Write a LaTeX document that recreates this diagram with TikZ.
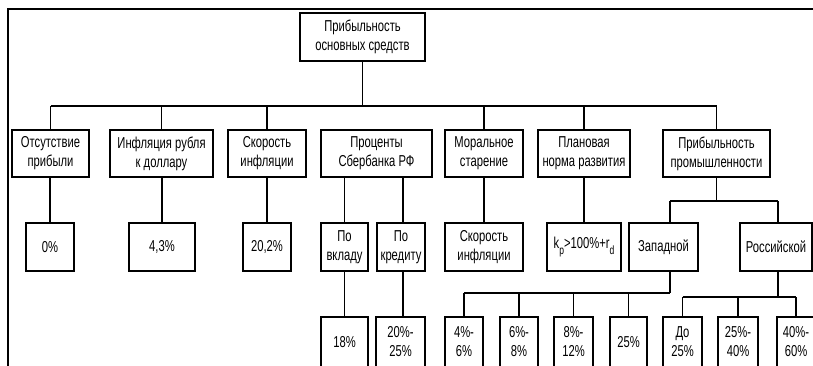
\documentclass[tikz,border=0pt]{standalone}
\usepackage{fontspec}
\setmainfont{Liberation Sans}[FakeStretch=0.71]
\begin{document}
\begin{tikzpicture}[x=1pt,y=-1pt,
  every node/.style={font=\fontsize{15.8}{19}\selectfont},
  box/.style={draw,line width=1.7pt,inner sep=0pt,align=center,minimum height=48pt},
  link/.style={line width=1.7pt},
  bus/.style={line width=2.5pt}]
\useasboundingbox (0,0) rectangle (813,365);
\clip (0,0) rectangle (813,365);

% outer frame (only its top and left sides fall inside the sheet)
\draw[line width=2pt] (8,400) -- (8,9) -- (830,9);

% root
\node[box,minimum width=125pt] (root) at (362.5,37) {Прибыльность\\основных средств};

% first level
\node[box,minimum width=77pt,minimum height=47pt]  (a1) at (50.5,153.5) {Отсутствие\\прибыли};
\node[box,minimum width=103pt,minimum height=47pt] (a2) at (161.5,153.5) {Инфляция рубля\\к доллару};
\node[box,minimum width=78pt,minimum height=47pt]  (a3) at (267,153.5) {Скорость\\инфляции};
\node[box,minimum width=111pt,minimum height=47pt] (a4) at (376.5,153.5) {Проценты\\Сбербанка РФ};
\node[box,minimum width=78pt,minimum height=47pt]  (a5) at (484,153.5) {Моральное\\старение};
\node[box,minimum width=92pt,minimum height=47pt]  (a6) at (584,153.5) {Плановая\\норма развития};
\node[box,minimum width=107pt,minimum height=47pt] (a7) at (716.5,153.5) {Прибыльность\\промышленности};

% second level
\node[box,minimum width=48pt] (b1) at (50,247) {0\%};
\node[box,minimum width=66pt] (b2) at (162,247) {4,3\%};
\node[box,minimum width=48pt] (b3) at (267,247) {20,2\%};
\node[box,minimum width=47pt] (b4a) at (344.5,247) {По\\вкладу};
\node[box,minimum width=48pt] (b4b) at (401,247) {По\\кредиту};
\node[box,minimum width=78pt] (b5) at (484,247) {Скорость\\инфляции};
\node[box,minimum width=74pt] (b6) at (584,247) {k\raisebox{-0.35em}{\fontsize{12}{12}\selectfont p}>100\%+r\raisebox{-0.35em}{\fontsize{12}{12}\selectfont d}};
\node[box,minimum width=69pt] (b7a) at (663.5,247) {Западной};
\node[box,minimum width=72pt] (b7b) at (776,247) {Российской};

% third level
\node[box,minimum width=47pt,minimum height=50pt] (c1) at (344.5,342) {18\%};
\node[box,minimum width=49pt,minimum height=50pt] (c2) at (400.5,342) {20\%-\\25\%};
\node[box,minimum width=38pt,minimum height=50pt] (w1) at (464,342) {4\%-\\6\%};
\node[box,minimum width=38pt,minimum height=50pt] (w2) at (519,342) {6\%-\\8\%};
\node[box,minimum width=39pt,minimum height=50pt] (w3) at (573.5,342) {8\%-\\12\%};
\node[box,minimum width=37pt,minimum height=50pt] (w4) at (628.5,342) {25\%};
\node[box,minimum width=39pt,minimum height=50pt] (r1) at (682.5,342) {До\\25\%};
\node[box,minimum width=40pt,minimum height=50pt] (r2) at (738,342) {25\%-\\40\%};
\node[box,minimum width=38pt,minimum height=50pt] (r3) at (796,342) {40\%-\\60\%};

% bus levels
\coordinate (mainbus) at (0,106);
\coordinate (indbus) at (0,201);
\coordinate (westbus) at (0,293);
\coordinate (rusbus) at (0,297);

% root to first level
\draw[link] (root.south) -- (root.south |- mainbus);
\draw[bus] (a1.north |- mainbus) -- (a7.north |- mainbus);
\foreach \n in {a1,a2,a3,a5,a6,a7}
  \draw[link] (\n.north) -- (\n.north |- mainbus);

% first level to second level
\foreach \n/\m in {a1/b1,a2/b2,a3/b3,a5/b5,a6/b6}
  \draw[link] (\n.south -| \m.north) -- (\m.north);
\draw[link] (a4.south -| b4a.north) -- (b4a.north);
\draw[link] ([xshift=2pt]a4.south -| b4b.north) -- ([xshift=2pt]b4b.north);
\draw[link] (a7.south) -- (a7.south |- indbus);
\draw[link] ([xshift=6.5pt]b7a.north |- indbus) -- ([xshift=2pt]b7b.north |- indbus);
\draw[link] ([xshift=6.5pt]b7a.north) -- ([xshift=6.5pt]b7a.north |- indbus);
\draw[link] ([xshift=2pt]b7b.north) -- ([xshift=2pt]b7b.north |- indbus);

% second level to third level
\draw[link] (b4a.south) -- (c1.north);
\draw[link] ([xshift=2pt]b4b.south) -- ([xshift=2.5pt]c2.north);
\draw[bus] ([xshift=6.5pt]b7a.south) -- ([xshift=6.5pt]b7a.south |- westbus);
\draw[link] (w1.north |- westbus) -- ([xshift=6.5pt]b7a.south |- westbus);
\foreach \n in {w1,w2,w3,w4}
  \draw[link] (\n.north) -- (\n.north |- westbus);
\draw[bus] ([xshift=2pt]b7b.south) -- ([xshift=2pt]b7b.south |- rusbus);
\draw[link] (r1.north |- rusbus) -- (r3.north |- rusbus);
\foreach \n in {r1,r2,r3}
  \draw[link] (\n.north) -- (\n.north |- rusbus);
\end{tikzpicture}
\end{document}
